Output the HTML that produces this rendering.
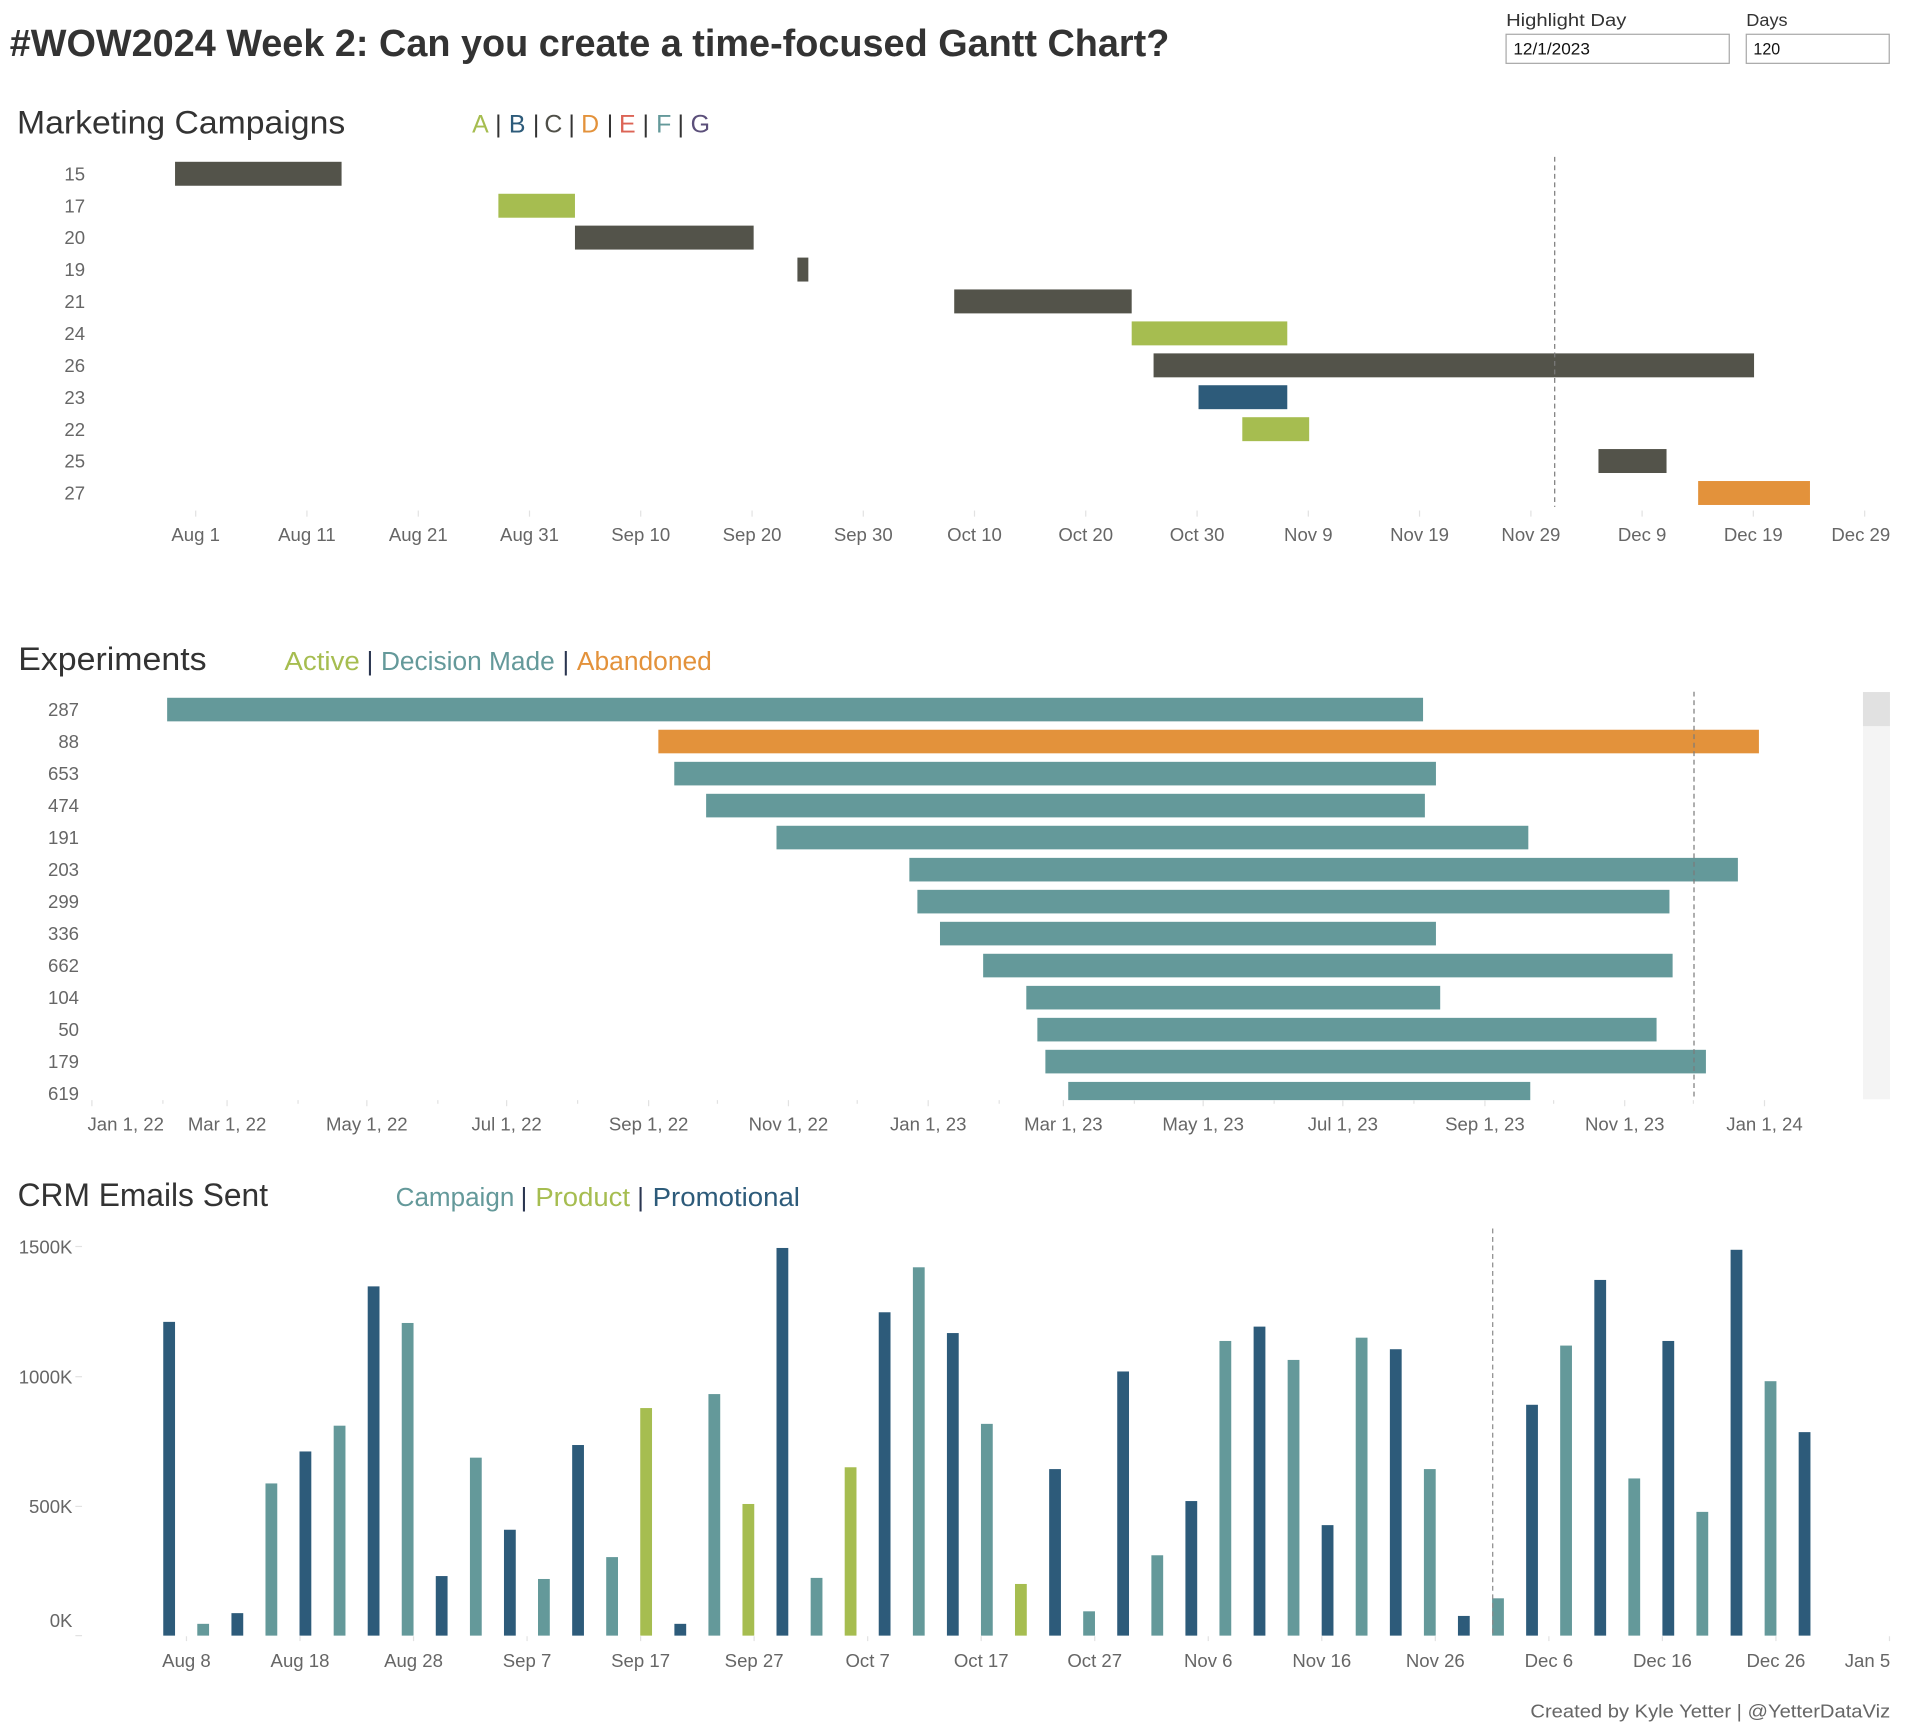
<!DOCTYPE html>
<html><head><meta charset="utf-8"><style>
html,body{margin:0;padding:0;background:#fff;}
svg{display:block;}
</style></head><body>
<svg width="1906" height="1733" viewBox="0 0 1568 1425.6" preserveAspectRatio="none" xmlns="http://www.w3.org/2000/svg" font-family="'Liberation Sans', Arial, sans-serif">
<rect width="1568" height="1425.6" fill="#fff"/>
<!-- Title -->
<text x="8" y="46" font-size="31" font-weight="bold" fill="#333" textLength="954" lengthAdjust="spacingAndGlyphs">#WOW2024 Week 2: Can you create a time-focused Gantt Chart?</text>
<!-- Params -->
<text x="1239" y="21.4" font-size="14.5" fill="#333" textLength="99" lengthAdjust="spacingAndGlyphs">Highlight Day</text>
<text x="1436.6" y="21.4" font-size="14.5" fill="#333" textLength="34" lengthAdjust="spacingAndGlyphs">Days</text>
<rect x="1239" y="28.2" width="183.6" height="23.9" fill="#fff" stroke="#a8a8a8" stroke-width="1"/>
<rect x="1436.6" y="28.2" width="117.6" height="23.9" fill="#fff" stroke="#a8a8a8" stroke-width="1"/>
<text x="1245" y="44.7" font-size="13.5" fill="#111" textLength="63" lengthAdjust="spacingAndGlyphs">12/1/2023</text>
<text x="1442.5" y="44.7" font-size="13.5" fill="#111" textLength="22" lengthAdjust="spacingAndGlyphs">120</text>

<!-- ================= Marketing Campaigns ================= -->
<text x="14" y="110" font-size="27" fill="#333" textLength="270" lengthAdjust="spacingAndGlyphs">Marketing Campaigns</text>
<g font-size="20.5" text-anchor="middle">
<text x="395.2" y="109" fill="#a6bd50">A</text>
<text x="410" y="109" fill="#333">|</text>
<text x="425.5" y="109" fill="#2d5b7a">B</text>
<text x="441" y="109" fill="#333">|</text>
<text x="455.2" y="109" fill="#4f4f48">C</text>
<text x="470.3" y="109" fill="#333">|</text>
<text x="485.5" y="109" fill="#e3923b">D</text>
<text x="501.8" y="109" fill="#333">|</text>
<text x="516.1" y="109" fill="#dc6456">E</text>
<text x="531.2" y="109" fill="#333">|</text>
<text x="546" y="109" fill="#64999a">F</text>
<text x="560" y="109" fill="#333">|</text>
<text x="576.1" y="109" fill="#5b4f7a">G</text>
</g>
<!-- row labels -->
<g font-size="15.3" fill="#666" text-anchor="end">
<text x="70" y="148.4">15</text>
<text x="70" y="174.7">17</text>
<text x="70" y="200.9">20</text>
<text x="70" y="227.2">19</text>
<text x="70" y="253.4">21</text>
<text x="70" y="279.7">24</text>
<text x="70" y="306">26</text>
<text x="70" y="332.2">23</text>
<text x="70" y="358.5">22</text>
<text x="70" y="384.7">25</text>
<text x="70" y="411">27</text>
</g>
<!-- bars -->
<rect x="144" y="133.1" width="137" height="19.7" fill="#53534a"/>
<rect x="410" y="159.4" width="63" height="19.7" fill="#a6bd50"/>
<rect x="473" y="185.6" width="147" height="19.7" fill="#53534a"/>
<rect x="656" y="211.9" width="9" height="19.7" fill="#53534a"/>
<rect x="785" y="238.1" width="146" height="19.7" fill="#53534a"/>
<rect x="931" y="264.4" width="128" height="19.7" fill="#a6bd50"/>
<rect x="949" y="290.7" width="494" height="19.7" fill="#53534a"/>
<rect x="986" y="316.9" width="73" height="19.7" fill="#2d5b7a"/>
<rect x="1022" y="343.2" width="55" height="19.7" fill="#a6bd50"/>
<rect x="1315" y="369.4" width="56" height="19.7" fill="#53534a"/>
<rect x="1397" y="395.7" width="92" height="19.7" fill="#e3923b"/>
<line x1="1279" y1="129" x2="1279" y2="417" stroke="#7a7a7a" stroke-width="1" stroke-dasharray="4,3"/>
<!-- ticks -->
<g stroke="#e2e2e2" stroke-width="1">
<line x1="161" y1="420" x2="161" y2="425"/><line x1="252.5" y1="420" x2="252.5" y2="425"/><line x1="344.1" y1="420" x2="344.1" y2="425"/><line x1="435.6" y1="420" x2="435.6" y2="425"/><line x1="527.1" y1="420" x2="527.1" y2="425"/><line x1="618.7" y1="420" x2="618.7" y2="425"/><line x1="710.2" y1="420" x2="710.2" y2="425"/><line x1="801.7" y1="420" x2="801.7" y2="425"/><line x1="893.2" y1="420" x2="893.2" y2="425"/><line x1="984.8" y1="420" x2="984.8" y2="425"/><line x1="1076.3" y1="420" x2="1076.3" y2="425"/><line x1="1167.8" y1="420" x2="1167.8" y2="425"/><line x1="1259.4" y1="420" x2="1259.4" y2="425"/><line x1="1350.9" y1="420" x2="1350.9" y2="425"/><line x1="1442.4" y1="420" x2="1442.4" y2="425"/><line x1="1534" y1="420" x2="1534" y2="425"/>
</g>
<g font-size="15.3" fill="#666" text-anchor="middle">
<text x="161" y="445">Aug 1</text>
<text x="252.5" y="445">Aug 11</text>
<text x="344.1" y="445">Aug 21</text>
<text x="435.6" y="445">Aug 31</text>
<text x="527.1" y="445">Sep 10</text>
<text x="618.7" y="445">Sep 20</text>
<text x="710.2" y="445">Sep 30</text>
<text x="801.7" y="445">Oct 10</text>
<text x="893.2" y="445">Oct 20</text>
<text x="984.8" y="445">Oct 30</text>
<text x="1076.3" y="445">Nov 9</text>
<text x="1167.8" y="445">Nov 19</text>
<text x="1259.4" y="445">Nov 29</text>
<text x="1350.9" y="445">Dec 9</text>
<text x="1442.4" y="445">Dec 19</text>
<text x="1555" y="445" text-anchor="end">Dec 29</text>
</g>

<!-- ================= Experiments ================= -->
<text x="15" y="551" font-size="27" fill="#333" textLength="155" lengthAdjust="spacingAndGlyphs">Experiments</text>
<g font-size="21">
<text x="234" y="551" fill="#a6bd50" textLength="62" lengthAdjust="spacingAndGlyphs">Active</text>
<text x="304.3" y="551" fill="#2a3550" text-anchor="middle">|</text>
<text x="313.4" y="551" fill="#64999a" textLength="143" lengthAdjust="spacingAndGlyphs">Decision Made</text>
<text x="465.5" y="551" fill="#2a3550" text-anchor="middle">|</text>
<text x="474.6" y="551" fill="#e3923b" textLength="111" lengthAdjust="spacingAndGlyphs">Abandoned</text>
</g>
<g font-size="15.3" fill="#666" text-anchor="end">
<text x="65" y="589">287</text>
<text x="65" y="615.3">88</text>
<text x="65" y="641.7">653</text>
<text x="65" y="668">474</text>
<text x="65" y="694.3">191</text>
<text x="65" y="720.7">203</text>
<text x="65" y="747">299</text>
<text x="65" y="773.3">336</text>
<text x="65" y="799.6">662</text>
<text x="65" y="826">104</text>
<text x="65" y="852.3">50</text>
<text x="65" y="878.6">179</text>
<text x="65" y="905">619</text>
</g>
<defs><clipPath id="expclip"><rect x="0" y="560" width="1530" height="345"/></clipPath></defs>
<g clip-path="url(#expclip)" fill="#64999a">
<rect x="137.5" y="574" width="1033.2" height="19.4"/>
<rect x="541.6" y="600.3" width="905.4" height="19.4" fill="#e3923b"/>
<rect x="554.7" y="626.7" width="626.6" height="19.4"/>
<rect x="580.9" y="653" width="591.3" height="19.4"/>
<rect x="638.8" y="679.3" width="618.5" height="19.4"/>
<rect x="748.1" y="705.7" width="681.6" height="19.4"/>
<rect x="754.7" y="732" width="618.7" height="19.4"/>
<rect x="773.3" y="758.3" width="408" height="19.4"/>
<rect x="808.8" y="784.6" width="567.2" height="19.4"/>
<rect x="844.3" y="811" width="340.5" height="19.4"/>
<rect x="853.4" y="837.3" width="509.4" height="19.4"/>
<rect x="860" y="863.6" width="543.4" height="19.4"/>
<rect x="878.8" y="890" width="380.1" height="19.4"/>
</g>
<line x1="1393.6" y1="569" x2="1393.6" y2="905" stroke="#7a7a7a" stroke-width="1" stroke-dasharray="4,3"/>
<rect x="1532.6" y="569.3" width="22.2" height="335" fill="#f4f4f4"/>
<rect x="1532.6" y="569.3" width="22.2" height="28" fill="#e1e1e1"/>
<g stroke="#e2e2e2" stroke-width="1">
<line x1="75.6" y1="905" x2="75.6" y2="910"/><line x1="134" y1="905" x2="134" y2="908"/><line x1="186.8" y1="905" x2="186.8" y2="910"/><line x1="245.2" y1="905" x2="245.2" y2="908"/><line x1="301.8" y1="905" x2="301.8" y2="910"/><line x1="360.2" y1="905" x2="360.2" y2="908"/><line x1="416.8" y1="905" x2="416.8" y2="910"/><line x1="475.2" y1="905" x2="475.2" y2="908"/><line x1="533.6" y1="905" x2="533.6" y2="910"/><line x1="590.2" y1="905" x2="590.2" y2="908"/><line x1="648.6" y1="905" x2="648.6" y2="910"/><line x1="705.2" y1="905" x2="705.2" y2="908"/><line x1="763.6" y1="905" x2="763.6" y2="910"/><line x1="822" y1="905" x2="822" y2="908"/><line x1="874.8" y1="905" x2="874.8" y2="910"/><line x1="933.2" y1="905" x2="933.2" y2="908"/><line x1="989.8" y1="905" x2="989.8" y2="910"/><line x1="1048.2" y1="905" x2="1048.2" y2="908"/><line x1="1104.7" y1="905" x2="1104.7" y2="910"/><line x1="1163.2" y1="905" x2="1163.2" y2="908"/><line x1="1221.6" y1="905" x2="1221.6" y2="910"/><line x1="1278.1" y1="905" x2="1278.1" y2="908"/><line x1="1336.6" y1="905" x2="1336.6" y2="910"/><line x1="1393.1" y1="905" x2="1393.1" y2="908"/><line x1="1451.6" y1="905" x2="1451.6" y2="910"/>
</g>
<g font-size="15.3" fill="#666" text-anchor="middle">
<text x="72" y="930" text-anchor="start">Jan 1, 22</text>
<text x="186.8" y="930">Mar 1, 22</text>
<text x="301.8" y="930">May 1, 22</text>
<text x="416.8" y="930">Jul 1, 22</text>
<text x="533.6" y="930">Sep 1, 22</text>
<text x="648.6" y="930">Nov 1, 22</text>
<text x="763.6" y="930">Jan 1, 23</text>
<text x="874.8" y="930">Mar 1, 23</text>
<text x="989.8" y="930">May 1, 23</text>
<text x="1104.7" y="930">Jul 1, 23</text>
<text x="1221.6" y="930">Sep 1, 23</text>
<text x="1336.6" y="930">Nov 1, 23</text>
<text x="1451.6" y="930">Jan 1, 24</text>
</g>

<!-- ================= CRM Emails Sent ================= -->
<text x="14.5" y="992" font-size="27" fill="#333" textLength="206" lengthAdjust="spacingAndGlyphs">CRM Emails Sent</text>
<g font-size="21">
<text x="325.5" y="992" fill="#64999a" textLength="97.6" lengthAdjust="spacingAndGlyphs">Campaign</text>
<text x="431" y="992" fill="#2a3550" text-anchor="middle">|</text>
<text x="440.4" y="992" fill="#a6bd50" textLength="77.9" lengthAdjust="spacingAndGlyphs">Product</text>
<text x="527" y="992" fill="#2a3550" text-anchor="middle">|</text>
<text x="536.9" y="992" fill="#2d5b7a" textLength="121.2" lengthAdjust="spacingAndGlyphs">Promotional</text>
</g>
<g font-size="15.3" fill="#666" text-anchor="end">
<text x="59.6" y="1031">1500K</text>
<text x="59.6" y="1138">1000K</text>
<text x="59.6" y="1244.5">500K</text>
<text x="59.6" y="1338.5">0K</text>
</g>
<g stroke="#e2e2e2" stroke-width="1">
<line x1="62" y1="1025.4" x2="67.5" y2="1025.4"/><line x1="62" y1="1132.5" x2="67.5" y2="1132.5"/><line x1="62" y1="1239.2" x2="67.5" y2="1239.2"/><line x1="62" y1="1345.5" x2="67.5" y2="1345.5"/>
</g>
<g>
<rect x="134.3" y="1087.4" width="9.7" height="258.1" fill="#2d5b7a"/>
<rect x="162.3" y="1335.8" width="9.7" height="9.7" fill="#64999a"/>
<rect x="190.4" y="1327" width="9.7" height="18.5" fill="#2d5b7a"/>
<rect x="218.4" y="1220.3" width="9.7" height="125.2" fill="#64999a"/>
<rect x="246.4" y="1194" width="9.7" height="151.5" fill="#2d5b7a"/>
<rect x="274.5" y="1172.8" width="9.7" height="172.7" fill="#64999a"/>
<rect x="302.5" y="1058.2" width="9.7" height="287.3" fill="#2d5b7a"/>
<rect x="330.5" y="1088.3" width="9.7" height="257.2" fill="#64999a"/>
<rect x="358.5" y="1296.5" width="9.7" height="49" fill="#2d5b7a"/>
<rect x="386.6" y="1199.1" width="9.7" height="146.4" fill="#64999a"/>
<rect x="414.6" y="1258.4" width="9.7" height="87.1" fill="#2d5b7a"/>
<rect x="442.6" y="1298.9" width="9.7" height="46.6" fill="#64999a"/>
<rect x="470.7" y="1188.7" width="9.7" height="156.8" fill="#2d5b7a"/>
<rect x="498.7" y="1280.9" width="9.7" height="64.6" fill="#64999a"/>
<rect x="526.7" y="1158.3" width="9.7" height="187.2" fill="#a6bd50"/>
<rect x="554.8" y="1335.8" width="9.7" height="9.7" fill="#2d5b7a"/>
<rect x="582.8" y="1146.8" width="9.7" height="198.7" fill="#64999a"/>
<rect x="610.8" y="1237.2" width="9.7" height="108.3" fill="#a6bd50"/>
<rect x="638.8" y="1026.6" width="9.7" height="318.9" fill="#2d5b7a"/>
<rect x="666.9" y="1298" width="9.7" height="47.5" fill="#64999a"/>
<rect x="694.9" y="1207" width="9.7" height="138.5" fill="#a6bd50"/>
<rect x="722.9" y="1079.5" width="9.7" height="266" fill="#2d5b7a"/>
<rect x="751" y="1042.5" width="9.7" height="303" fill="#64999a"/>
<rect x="779" y="1096.6" width="9.7" height="248.9" fill="#2d5b7a"/>
<rect x="807" y="1171.3" width="9.7" height="174.2" fill="#64999a"/>
<rect x="835" y="1303" width="9.7" height="42.5" fill="#a6bd50"/>
<rect x="863.1" y="1208.5" width="9.7" height="137" fill="#2d5b7a"/>
<rect x="891.1" y="1325.5" width="9.7" height="20" fill="#64999a"/>
<rect x="919.1" y="1128.2" width="9.7" height="217.3" fill="#2d5b7a"/>
<rect x="947.2" y="1279.4" width="9.7" height="66.1" fill="#64999a"/>
<rect x="975.2" y="1234.8" width="9.7" height="110.7" fill="#2d5b7a"/>
<rect x="1003.2" y="1103.1" width="9.7" height="242.4" fill="#64999a"/>
<rect x="1031.3" y="1091.3" width="9.7" height="254.2" fill="#2d5b7a"/>
<rect x="1059.3" y="1118.7" width="9.7" height="226.8" fill="#64999a"/>
<rect x="1087.3" y="1254.6" width="9.7" height="90.9" fill="#2d5b7a"/>
<rect x="1115.3" y="1100.4" width="9.7" height="245.1" fill="#64999a"/>
<rect x="1143.4" y="1109.9" width="9.7" height="235.6" fill="#2d5b7a"/>
<rect x="1171.4" y="1208.5" width="9.7" height="137" fill="#64999a"/>
<rect x="1199.4" y="1329.3" width="9.7" height="16.2" fill="#2d5b7a"/>
<rect x="1227.5" y="1314.8" width="9.7" height="30.7" fill="#64999a"/>
<rect x="1255.5" y="1155.6" width="9.7" height="189.9" fill="#2d5b7a"/>
<rect x="1283.5" y="1106.9" width="9.7" height="238.6" fill="#64999a"/>
<rect x="1311.6" y="1052.9" width="9.7" height="292.6" fill="#2d5b7a"/>
<rect x="1339.6" y="1216.2" width="9.7" height="129.3" fill="#64999a"/>
<rect x="1367.6" y="1103.1" width="9.7" height="242.4" fill="#2d5b7a"/>
<rect x="1395.6" y="1243.7" width="9.7" height="101.8" fill="#64999a"/>
<rect x="1423.7" y="1028.1" width="9.7" height="317.4" fill="#2d5b7a"/>
<rect x="1451.7" y="1136.2" width="9.7" height="209.3" fill="#64999a"/>
<rect x="1479.7" y="1178.1" width="9.7" height="167.4" fill="#2d5b7a"/>
</g>
<line x1="1228" y1="1010.6" x2="1228" y2="1345.5" stroke="#8a8a8a" stroke-width="1" stroke-dasharray="4,3"/>
<g stroke="#e2e2e2" stroke-width="1">
<line x1="153.4" y1="1346" x2="153.4" y2="1350"/><line x1="246.8" y1="1346" x2="246.8" y2="1350"/><line x1="340.2" y1="1346" x2="340.2" y2="1350"/><line x1="433.6" y1="1346" x2="433.6" y2="1350"/><line x1="527" y1="1346" x2="527" y2="1350"/><line x1="620.4" y1="1346" x2="620.4" y2="1350"/><line x1="713.8" y1="1346" x2="713.8" y2="1350"/><line x1="807.2" y1="1346" x2="807.2" y2="1350"/><line x1="900.6" y1="1346" x2="900.6" y2="1350"/><line x1="994" y1="1346" x2="994" y2="1350"/><line x1="1087.4" y1="1346" x2="1087.4" y2="1350"/><line x1="1180.8" y1="1346" x2="1180.8" y2="1350"/><line x1="1274.2" y1="1346" x2="1274.2" y2="1350"/><line x1="1367.6" y1="1346" x2="1367.6" y2="1350"/><line x1="1461" y1="1346" x2="1461" y2="1350"/><line x1="1554.4" y1="1346" x2="1554.4" y2="1350"/>
</g>
<g font-size="15.3" fill="#666" text-anchor="middle">
<text x="153.4" y="1371.5">Aug 8</text>
<text x="246.8" y="1371.5">Aug 18</text>
<text x="340.2" y="1371.5">Aug 28</text>
<text x="433.6" y="1371.5">Sep 7</text>
<text x="527" y="1371.5">Sep 17</text>
<text x="620.4" y="1371.5">Sep 27</text>
<text x="713.8" y="1371.5">Oct 7</text>
<text x="807.2" y="1371.5">Oct 17</text>
<text x="900.6" y="1371.5">Oct 27</text>
<text x="994" y="1371.5">Nov 6</text>
<text x="1087.4" y="1371.5">Nov 16</text>
<text x="1180.8" y="1371.5">Nov 26</text>
<text x="1274.2" y="1371.5">Dec 6</text>
<text x="1367.6" y="1371.5">Dec 16</text>
<text x="1461" y="1371.5">Dec 26</text>
<text x="1555" y="1371.5" text-anchor="end">Jan 5</text>
</g>
<text x="1555" y="1413" font-size="15" fill="#666" text-anchor="end" textLength="296" lengthAdjust="spacingAndGlyphs">Created by Kyle Yetter | @YetterDataViz</text>
</svg>
</body></html>
